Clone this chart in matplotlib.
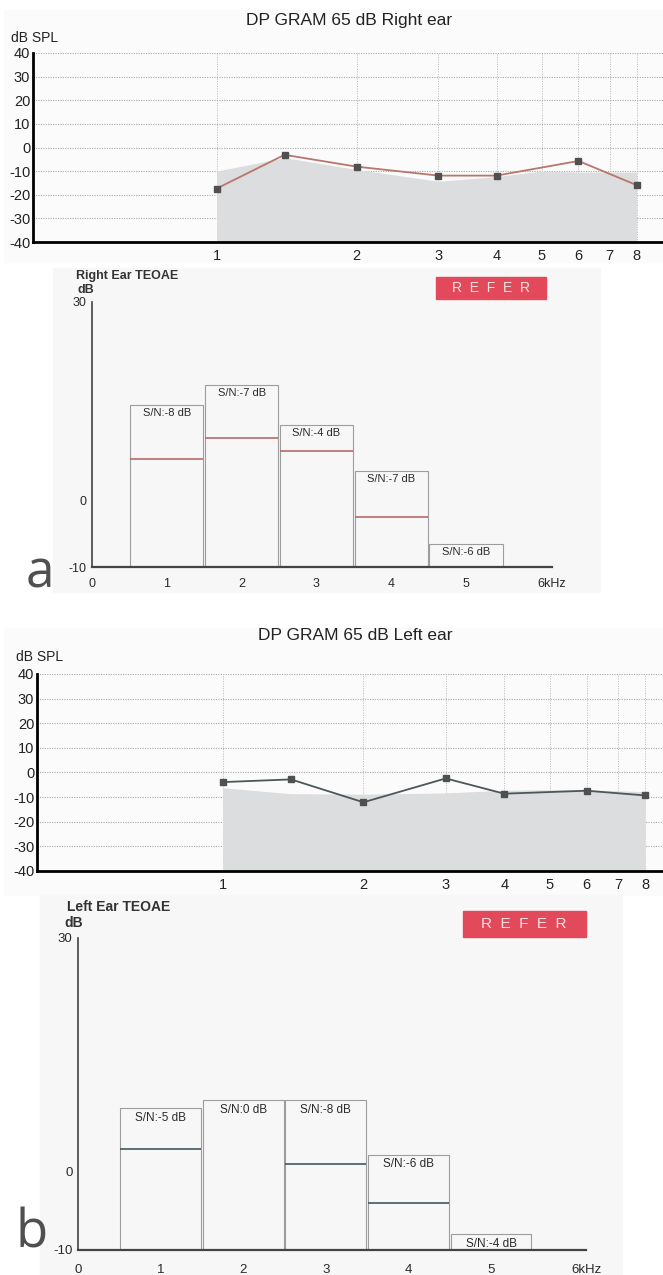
import numpy as np
import matplotlib
matplotlib.use("Agg")
import matplotlib.pyplot as plt
from matplotlib.patches import Rectangle

plt.rcParams['font.family'] = ['Liberation Sans', 'DejaVu Sans']
plt.rcParams['axes.unicode_minus'] = False

# DP-gram, frequency in kHz, level in dB SPL
dp_freq = [1, 1.4, 2, 3, 4, 6, 8]
dp_right = [-17.4, -3.1, -8.1, -11.9, -11.9, -5.7, -15.9]
dp_left = [-3.9, -2.8, -12.1, -2.4, -8.6, -7.4, -9.3]

noise_freq = [1, 1.4, 2, 3, 4, 5, 6, 8]
noise_right = [-10.0, -4.3, -9.3, -14.3, -12.3, -10.0, -10.4, -10.4]
noise_left = [-6.2, -8.6, -8.8, -8.3, -7.2, -7.0, -7.0, -7.8]

grid_freq = [1, 2, 3, 4, 5, 6, 7, 8]

# TEOAE bands (kHz), response and noise (dB)
te_band = [1, 2, 3, 4, 5]
te_right = [14.5, 17.5, 11.5, 4.5, -6.5]
te_right_noise = [6.3, 9.5, 7.5, -2.5, np.nan]
te_right_sn = ['S/N:-8 dB', 'S/N:-7 dB', 'S/N:-4 dB', 'S/N:-7 dB', 'S/N:-6 dB']
te_left = [8.2, 9.2, 9.2, 2.2, -8.0]
te_left_noise = [3.0, np.nan, 1.0, -4.0, np.nan]
te_left_sn = ['S/N:-5 dB', 'S/N:0 dB', 'S/N:-8 dB', 'S/N:-6 dB', 'S/N:-4 dB']
te_ticks = [0, 1, 2, 3, 4, 5, 6.15]
te_ticklabels = ['0', '1', '2', '3', '4', '5', '6kHz']

W, H = 663, 1275
fig = plt.figure(figsize=(W / 100, H / 100), dpi=100, facecolor='white')


def px_axes(l, t, r, b):
    return fig.add_axes([l / W, 1 - b / H, (r - l) / W, (b - t) / H])


def px_text(x, y, s, **kw):
    fig.text(x / W, 1 - y / H, s, **kw)


def px_rect(l, t, r, b, color):
    fig.patches.append(Rectangle((l / W, 1 - b / H), (r - l) / W, (b - t) / H,
                                 transform=fig.transFigure, color=color, zorder=-5))


# faint paper backgrounds
px_rect(4, 10, 663, 262, '#fbfbfb')
px_rect(53, 268, 600, 592, '#f7f7f7')
px_rect(4, 628, 663, 895, '#fbfbfb')
px_rect(40, 895, 622, 1275, '#f7f7f7')


def dp_panel(ax, y, noise, line_col, xlim, fs):
    ax.set_xscale('log')
    ax.set_xlim(*xlim)
    ax.set_ylim(-40, 40)
    ax.set_facecolor('none')
    for v in range(-30, 41, 10):
        ax.axhline(v, color='#a8a8a8', lw=0.8, ls=(0, (1, 1.2)), zorder=0)
    for f in grid_freq:
        ax.plot([f, f], [-40, 40], color='#b8b8b8', lw=0.7, ls=(0, (1, 1.5)), zorder=0)
    ax.fill_between(noise_freq, -40, noise, color='#dcdddf', lw=0, zorder=1)
    ax.plot(dp_freq, y, color=line_col, lw=1.3, zorder=3)
    ax.plot(dp_freq, y, ls='none', marker='s', ms=4.5, color='#505050', zorder=4)
    ax.set_yticks(range(-40, 41, 10))
    ax.set_yticklabels([str(v) for v in range(-40, 41, 10)])
    ax.set_xticks(grid_freq)
    ax.set_xticklabels([str(f) for f in grid_freq])
    ax.xaxis.set_minor_locator(matplotlib.ticker.NullLocator())
    ax.tick_params(length=0, labelsize=fs, colors='#222')
    ax.tick_params(axis='y', pad=2)
    ax.tick_params(axis='x', pad=5)
    for s in ['top', 'right']:
        ax.spines[s].set_visible(False)
    ax.spines['left'].set_linewidth(2)
    ax.spines['bottom'].set_linewidth(2)


def te_panel(ax, resp, noise, sn, noise_col, xmax, fs, pad_x):
    ax.set_xlim(0, xmax)
    ax.set_ylim(-10, 30)
    ax.set_facecolor('none')
    resp = np.array(resp)
    band = np.array(te_band, dtype=float)
    ax.bar(band, resp + 10, bottom=-10, width=0.98, fill=False,
           edgecolor='#9c9c9c', lw=0.8)
    ax.hlines(noise, band - 0.49, band + 0.49, colors=noise_col, lw=1.2)
    for b, r, s in zip(band, resp, sn):
        ax.annotate(s, (b, r), xytext=(0, -2.5), textcoords='offset points',
                    ha='center', va='top', fontsize=fs - 1, color='#2a2a2a')
    ax.set_yticks([-10, 0, 30])
    ax.set_xticks(te_ticks)
    ax.set_xticklabels(te_ticklabels)
    ax.tick_params(length=0, labelsize=fs, colors='#2a2a2a')
    ax.tick_params(axis='x', pad=pad_x)
    ax.tick_params(axis='y', pad=4)
    for s in ['top', 'right']:
        ax.spines[s].set_visible(False)
    ax.spines['left'].set_linewidth(1.2)
    ax.spines['left'].set_color('#444')
    ax.spines['bottom'].set_linewidth(1.6)
    ax.spines['bottom'].set_color('#444')


# ---- a: right ear ----
ax1 = px_axes(33, 53, 663, 242)
dp_panel(ax1, dp_right, noise_right, '#b8766c', (0.403, 9.12), 10.5)
px_text(349, 20, 'DP GRAM 65 dB Right ear', ha='center', va='center', fontsize=12.5, color='#222')
px_text(11, 38, 'dB SPL', ha='left', va='center', fontsize=10, color='#222')

ax2 = px_axes(92, 302, 552, 567)
te_panel(ax2, te_right, te_right_noise, te_right_sn, '#b86a6a', 6.08, 9, 8)
px_text(76, 276, 'Right Ear TEOAE', ha='left', va='center', fontsize=9, weight='bold', color='#333')
px_text(77, 290, 'dB', ha='left', va='center', fontsize=9, weight='bold', color='#333')
px_rect(436, 277, 546, 299, '#e24a5c')
px_text(491, 288, 'R  E  F  E  R', ha='center', va='center', fontsize=10, color='#f8e0e0')
px_text(26, 588, 'a', ha='left', va='baseline', fontsize=37, color='#505050', family='Open Sans')

# ---- b: left ear ----
ax3 = px_axes(37, 674, 663, 871)
dp_panel(ax3, dp_left, noise_left, '#4c5858', (0.401, 8.74), 10.5)
px_text(355, 636, 'DP GRAM 65 dB Left ear', ha='center', va='center', fontsize=12.5, color='#222')
px_text(16, 657, 'dB SPL', ha='left', va='center', fontsize=10, color='#222')

ax4 = px_axes(78, 938, 586, 1250)
te_panel(ax4, te_left, te_left_noise, te_left_sn, '#3f5a5e', 6.05, 9.5, 10)
px_text(67, 907, 'Left Ear TEOAE', ha='left', va='center', fontsize=10, weight='bold', color='#333')
px_text(64, 923, 'dB', ha='left', va='center', fontsize=10, weight='bold', color='#333')
px_rect(463, 911, 586, 937, '#e24a5c')
px_text(524, 924, 'R  E  F  E  R', ha='center', va='center', fontsize=11, color='#f8e0e0')
px_text(16, 1248, 'b', ha='left', va='baseline', fontsize=38, color='#505050', family='Open Sans')

fig.savefig('out.png', dpi=100, facecolor='white')
